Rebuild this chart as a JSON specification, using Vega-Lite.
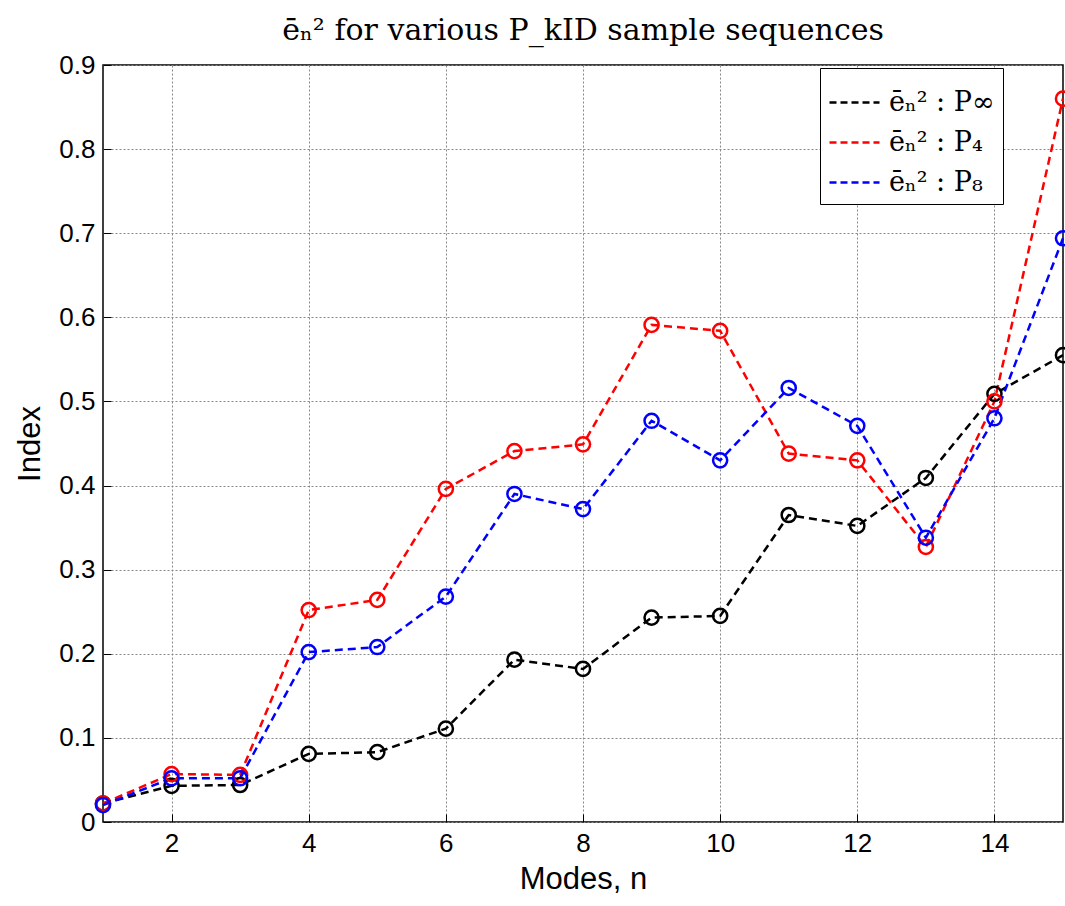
{
  "$schema": "https://vega.github.io/schema/vega-lite/v6.json",
  "width": 960,
  "height": 757,
  "autosize": {"type": "none"},
  "padding": {"left": 103, "top": 65, "right": 2, "bottom": 84},
  "background": "white",
  "title": {
    "text": "ēₙ² for various P_kID sample sequences",
    "font": "DejaVu Serif",
    "fontSize": 30,
    "fontWeight": "normal",
    "color": "black",
    "anchor": "middle",
    "offset": 6
  },
  "config": {
    "view": {"stroke": "black", "strokeWidth": 1.5},
    "axis": {
      "labelFont": "Liberation Sans",
      "labelFontSize": 26,
      "labelColor": "black",
      "titleFont": "Liberation Sans",
      "titleFontSize": 31,
      "titleFontWeight": "normal",
      "titleColor": "black",
      "domain": false,
      "tickColor": "black",
      "tickSize": -8,
      "tickWidth": 1,
      "gridColor": "#888888",
      "gridDash": [2, 2],
      "gridWidth": 1,
      "gridOpacity": 1
    }
  },
  "data": {
    "values": [
      {"n": 1, "series": "P∞", "v": 0.022}, {"n": 2, "series": "P∞", "v": 0.043}, {"n": 3, "series": "P∞", "v": 0.044},
      {"n": 4, "series": "P∞", "v": 0.081}, {"n": 5, "series": "P∞", "v": 0.083}, {"n": 6, "series": "P∞", "v": 0.111},
      {"n": 7, "series": "P∞", "v": 0.193}, {"n": 8, "series": "P∞", "v": 0.182}, {"n": 9, "series": "P∞", "v": 0.243},
      {"n": 10, "series": "P∞", "v": 0.245}, {"n": 11, "series": "P∞", "v": 0.365}, {"n": 12, "series": "P∞", "v": 0.352},
      {"n": 13, "series": "P∞", "v": 0.409}, {"n": 14, "series": "P∞", "v": 0.509}, {"n": 15, "series": "P∞", "v": 0.555},
      {"n": 1, "series": "P4", "v": 0.022}, {"n": 2, "series": "P4", "v": 0.057}, {"n": 3, "series": "P4", "v": 0.056},
      {"n": 4, "series": "P4", "v": 0.252}, {"n": 5, "series": "P4", "v": 0.264}, {"n": 6, "series": "P4", "v": 0.396},
      {"n": 7, "series": "P4", "v": 0.441}, {"n": 8, "series": "P4", "v": 0.449}, {"n": 9, "series": "P4", "v": 0.591},
      {"n": 10, "series": "P4", "v": 0.584}, {"n": 11, "series": "P4", "v": 0.438}, {"n": 12, "series": "P4", "v": 0.430},
      {"n": 13, "series": "P4", "v": 0.327}, {"n": 14, "series": "P4", "v": 0.500}, {"n": 15, "series": "P4", "v": 0.860},
      {"n": 1, "series": "P8", "v": 0.020}, {"n": 2, "series": "P8", "v": 0.052}, {"n": 3, "series": "P8", "v": 0.052},
      {"n": 4, "series": "P8", "v": 0.202}, {"n": 5, "series": "P8", "v": 0.208}, {"n": 6, "series": "P8", "v": 0.268},
      {"n": 7, "series": "P8", "v": 0.390}, {"n": 8, "series": "P8", "v": 0.372}, {"n": 9, "series": "P8", "v": 0.477},
      {"n": 10, "series": "P8", "v": 0.430}, {"n": 11, "series": "P8", "v": 0.516}, {"n": 12, "series": "P8", "v": 0.471},
      {"n": 13, "series": "P8", "v": 0.338}, {"n": 14, "series": "P8", "v": 0.480}, {"n": 15, "series": "P8", "v": 0.694}
    ]
  },
  "encoding": {
    "x": {
      "field": "n", "type": "quantitative",
      "scale": {"domain": [1, 15], "nice": false, "zero": false},
      "axis": {"values": [2, 4, 6, 8, 10, 12, 14], "title": "Modes, n", "labelPadding": 16, "titlePadding": 8}
    },
    "y": {
      "field": "v", "type": "quantitative",
      "scale": {"domain": [0, 0.9], "nice": false},
      "axis": {"values": [0, 0.1, 0.2, 0.3, 0.4, 0.5, 0.6, 0.7, 0.8, 0.9], "title": "Index",
               "labelExpr": "datum.value == 0 ? '0' : format(datum.value, '.1f')", "labelPadding": 16, "titlePadding": 12}
    },
    "color": {
      "field": "series", "type": "nominal",
      "scale": {"domain": ["P∞", "P4", "P8"], "range": ["#000000", "#ff0000", "#0000ff"]},
      "legend": {
        "orient": "none", "legendX": 717, "legendY": 3,
        "title": null,
        "labelExpr": "datum.value == 'P∞' ? 'ēₙ² : P∞' : datum.value == 'P4' ? 'ēₙ² : P₄' : 'ēₙ² : P₈'",
        "labelFont": "DejaVu Serif", "labelFontSize": 27, "labelColor": "black",
        "symbolType": "stroke", "symbolDash": [7, 4], "symbolStrokeWidth": 2.5, "symbolSize": 2500,
        "rowPadding": 0, "padding": 8, "labelOffset": 8,
        "strokeColor": "black", "fillColor": "white"
      }
    }
  },
  "layer": [
    {"mark": {"type": "line", "strokeWidth": 2.5, "strokeDash": [8, 5], "clip": false}},
    {"mark": {"type": "point", "shape": "circle", "filled": false, "size": 200, "strokeWidth": 2.5, "opacity": 1, "clip": false}}
  ]
}
